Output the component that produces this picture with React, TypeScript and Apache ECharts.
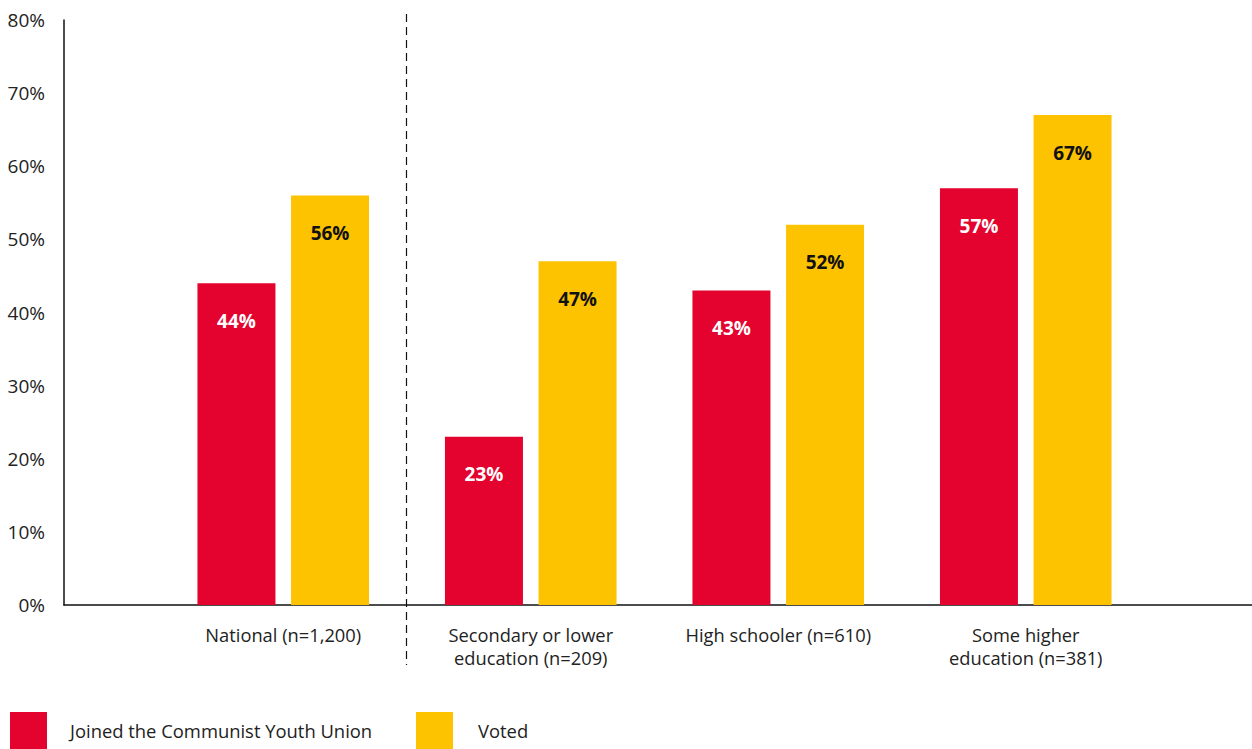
import React, { useEffect, useRef } from "react";
import * as echarts from "echarts";

const categories = [
  "National (n=1,200)",
  "Secondary or lower\neducation (n=209)",
  "High schooler (n=610)",
  "Some higher\neducation (n=381)",
];
const joinedValues = [44, 23, 43, 57];
const votedValues = [56, 47, 52, 67];
const seriesNames = ["Joined the Communist Youth Union", "Voted"];
const yTicks = [0, 10, 20, 30, 40, 50, 60, 70, 80];

const RED = "#E4032E";
const YELLOW = "#FDC300";
const FONT = "Open Sans";

export default function App() {
  const ref = useRef<HTMLDivElement>(null);
  useEffect(() => {
    document.body.style.margin = "0";
    if (!ref.current) return;
    const chart = echarts.init(ref.current, undefined, { renderer: "svg" });
    const legendText = { fontSize: 18.4, color: "#222", fontFamily: FONT, padding: [0, 0, 0, 18] };
    const option: any = {
      animation: false,
      textStyle: { fontFamily: FONT },
      grid: [
        { left: 64, right: 0, top: 20, bottom: 144 },
        { left: 159.5, right: 102.5, top: 20, bottom: 144 },
      ],
      xAxis: [
        {
          gridIndex: 0,
          type: "category",
          data: [""],
          axisLine: { show: true, lineStyle: { color: "#111", width: 1.5 } },
          axisTick: { show: false },
          axisLabel: { show: false },
        },
        {
          gridIndex: 1,
          type: "category",
          data: categories,
          axisLine: { show: false },
          axisTick: { show: false },
          axisLabel: {
            color: "#222",
            fontSize: 18.3,
            fontFamily: FONT,
            lineHeight: 23,
            margin: 18,
            interval: 0,
          },
        },
      ],
      yAxis: [
        {
          gridIndex: 0,
          type: "value",
          min: yTicks[0],
          max: yTicks[yTicks.length - 1],
          interval: 10,
          axisLine: { show: true, lineStyle: { color: "#111", width: 1.5 } },
          axisTick: { show: false },
          splitLine: { show: false },
          axisLabel: {
            color: "#222",
            fontSize: 19,
            fontFamily: FONT,
            margin: 19,
            formatter: "{value}%",
          },
        },
        {
          gridIndex: 1,
          type: "value",
          min: yTicks[0],
          max: yTicks[yTicks.length - 1],
          interval: 10,
          show: false,
          splitLine: { show: false },
        },
      ],
      legend: [
        {
          data: [seriesNames[0]],
          left: 10,
          top: 712,
          itemWidth: 37,
          itemHeight: 37,
          itemGap: 0,
          icon: "rect",
          textStyle: legendText,
          padding: 0,
        },
        {
          data: [seriesNames[1]],
          left: 416,
          top: 712,
          itemWidth: 37,
          itemHeight: 37,
          itemGap: 0,
          icon: "rect",
          textStyle: { ...legendText, padding: [0, 0, 0, 20] },
          padding: 0,
        },
      ],
      graphic: [
        {
          type: "line",
          shape: { x1: 406.5, y1: 14, x2: 406.5, y2: 665 },
          style: { stroke: "#111", lineWidth: 1.2, lineDash: [8, 5] },
          silent: true,
        },
      ],
      series: [
        {
          name: seriesNames[0],
          type: "bar",
          xAxisIndex: 1,
          yAxisIndex: 1,
          data: joinedValues,
          barWidth: 78,
          barGap: "20%",
          itemStyle: { color: RED },
          label: {
            show: true,
            position: "insideTop",
            distance: 28,
            formatter: "{c}%",
            color: "#fff",
            fontWeight: "bold",
            fontSize: 19,
            fontFamily: FONT,
          },
        },
        {
          name: seriesNames[1],
          type: "bar",
          xAxisIndex: 1,
          yAxisIndex: 1,
          data: votedValues,
          barWidth: 78,
          barGap: "20%",
          itemStyle: { color: YELLOW },
          label: {
            show: true,
            position: "insideTop",
            distance: 28,
            formatter: "{c}%",
            color: "#111",
            fontWeight: "bold",
            fontSize: 19,
            fontFamily: FONT,
          },
        },
      ],
    };
    chart.setOption(option);
    return () => chart.dispose();
  }, []);
  return <div ref={ref} style={{ width: 1252, height: 749 }} />;
}
